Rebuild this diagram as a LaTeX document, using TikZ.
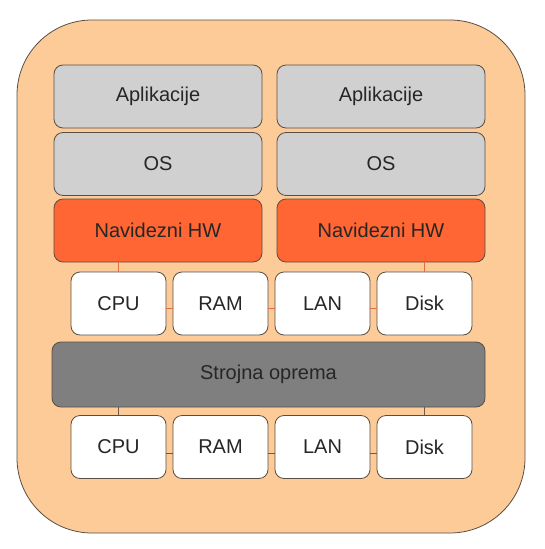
\documentclass[tikz,border=0pt]{standalone}
\usepackage{fontspec}
\setmainfont{Liberation Sans}
\definecolor{peach}{HTML}{FCCB98}
\definecolor{edge}{HTML}{5A4E44}
\definecolor{lgray}{HTML}{D0D0D0}
\definecolor{dgray}{HTML}{7F7F7F}
\definecolor{orng}{HTML}{FF6633}
\definecolor{oline}{HTML}{E07040}
\definecolor{bline}{HTML}{6A5A4A}
\begin{document}
\begin{tikzpicture}[x=1pt,y=-1pt,
  bx/.style={draw=edge, line width=0.8pt, rounded corners=9pt, inner sep=0pt,
     font=\fontsize{20}{24}\selectfont, text=black!85},
  big/.style={bx, minimum width=208pt, minimum height=63pt},
  small/.style={bx, fill=white, minimum width=95pt, minimum height=63pt},
  olink/.style={draw=oline, line width=1.2pt},
  blink/.style={draw=bline, line width=0.8pt}]
\useasboundingbox (0,0) rectangle (545,549);
\draw[draw=edge, line width=0.8pt, fill=peach, rounded corners=75pt] (17,20) rectangle (525,533);
% upper stack
\node[big, fill=lgray] (appL) at (158,96.5) {Aplikacije};
\node[big, fill=lgray] (appR) at (381,96.5) {Aplikacije};
\node[big, fill=lgray] (osL) at (158,164) {OS};
\node[big, fill=lgray] (osR) at (381,164) {OS};
\node[big, fill=orng] (navL) at (158,230.5) {Navidezni HW};
\node[big, fill=orng] (navR) at (381,230.5) {Navidezni HW};
% virtual hardware row
\node[small] (cpuA) at (118.5,303.5) {CPU};
\node[small] (ramA) at (220.5,303.5) {RAM};
\node[small] (lanA) at (322.5,303.5) {LAN};
\node[small] (diskA) at (424.5,303.5) {Disk};
% physical hardware
\node[bx, fill=dgray, minimum width=433pt, minimum height=65pt] (hw) at (268.5,374.5) {Strojna oprema};
\node[small] (cpuB) at (118.5,447) {CPU};
\node[small] (ramB) at (220.5,447) {RAM};
\node[small] (lanB) at (322.5,447) {LAN};
\node[small] (diskB) at (424.5,447) {Disk};
% connectors
\draw[olink] (cpuA.north) -- (cpuA.north |- navL.south);
\draw[olink] (diskA.north) -- (diskA.north |- navR.south);
\draw[olink] ([yshift=-5pt]cpuA.east) -- ([yshift=-5pt]ramA.west);
\draw[olink] ([yshift=-5pt]ramA.east) -- ([yshift=-5pt]lanA.west);
\draw[olink] ([yshift=-5pt]lanA.east) -- ([yshift=-5pt]diskA.west);
\draw[blink] (cpuB.north) -- (cpuB.north |- hw.south);
\draw[blink] (diskB.north) -- (diskB.north |- hw.south);
\draw[blink] ([yshift=-6pt]cpuB.east) -- ([yshift=-6pt]ramB.west);
\draw[blink] ([yshift=-6pt]ramB.east) -- ([yshift=-6pt]lanB.west);
\draw[blink] ([yshift=-6pt]lanB.east) -- ([yshift=-6pt]diskB.west);
\end{tikzpicture}
\end{document}
